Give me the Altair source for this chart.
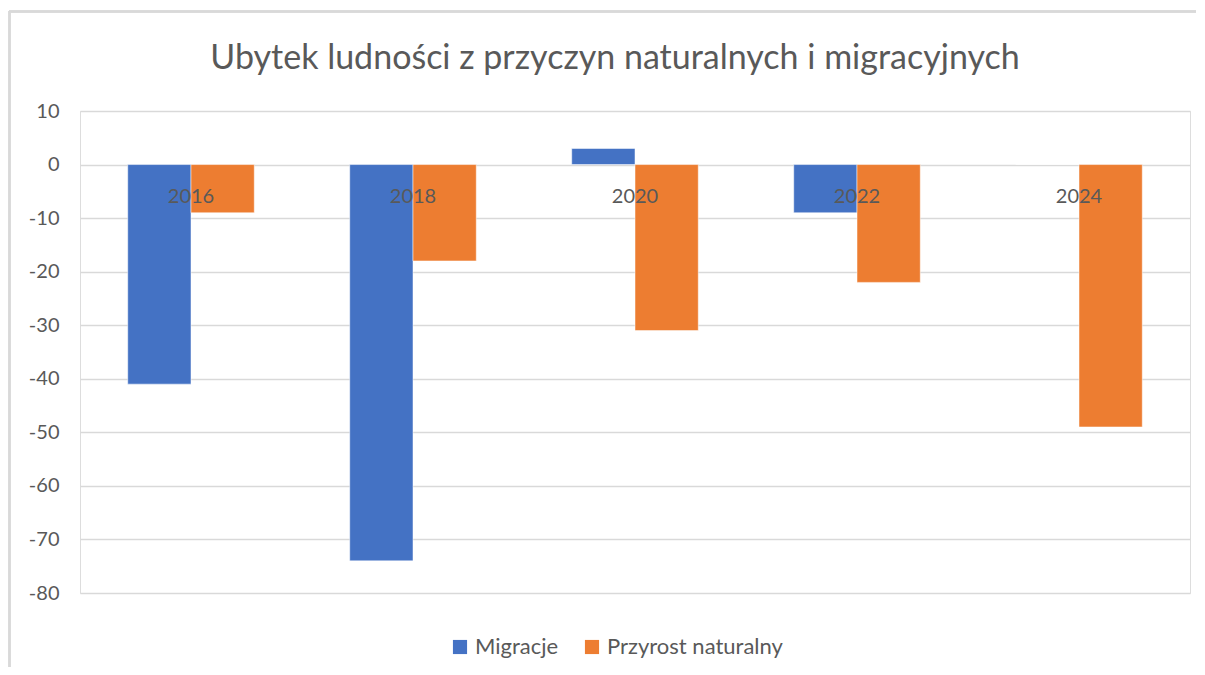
import altair as alt
import pandas as pd

years = ["2016", "2018", "2020", "2022", "2024"]
series = ["Migracje", "Przyrost naturalny"]
migracje = [-41, -74, 3, -9, 0]
przyrost = [-9, -18, -31, -22, -49]
colors = ["#4472C4", "#ED7D31"]
y_ticks = [10, 0, -10, -20, -30, -40, -50, -60, -70, -80]
title = "Ubytek ludności z przyczyn naturalnych i migracyjnych"

rows = []
for i, yr in enumerate(years):
    rows.append({"Rok": yr, "Seria": series[0], "Wartość": migracje[i]})
    rows.append({"Rok": yr, "Seria": series[1], "Wartość": przyrost[i]})
df = pd.DataFrame(rows)
lab = pd.DataFrame({"Rok": years, "zero": [0] * len(years)})

FONT = "Lato"
GREY = "#595959"

x_enc = alt.X("Rok:N", sort=years, axis=None,
              scale=alt.Scale(paddingInner=0.43, paddingOuter=0.215))

bars = alt.Chart(df).mark_bar(stroke="white", strokeWidth=0.5).encode(
    x=x_enc,
    xOffset=alt.XOffset("Seria:N", sort=series, scale=alt.Scale(paddingInner=0, paddingOuter=0)),
    y=alt.Y("Wartość:Q", scale=alt.Scale(domain=[-80, 10], nice=False, zero=False),
            axis=alt.Axis(values=y_ticks, title=None, ticks=False, domain=False,
                          labelPadding=21, labelFontSize=20, labelColor=GREY,
                          labelFont=FONT, gridColor="#D9D9D9", gridWidth=1.3,
                          labelExpr="'' + datum.value")),
    color=alt.Color("Seria:N", sort=series,
                    scale=alt.Scale(domain=series, range=colors),
                    legend=alt.Legend(title=None, orient="none", direction="horizontal",
                                      legendX=369, legendY=525, symbolType="square",
                                      symbolSize=200, symbolStrokeWidth=0,
                                      labelFontSize=22, labelFont=FONT, labelColor=GREY,
                                      labelLimit=400,
                                      columnPadding=22, padding=0, labelOffset=4)),
)

labels = alt.Chart(lab).mark_text(baseline="middle", dy=32, fontSize=20,
                                  font=FONT, color=GREY).encode(
    x=x_enc,
    y=alt.Y("zero:Q"),
    text="Rok:N",
)

top_border = alt.Chart(lab).mark_rule(color="#D9D9D9", strokeWidth=2).encode(
    x=alt.value(-71), x2=alt.value(1125), y=alt.value(-99.5))
left_border = alt.Chart(lab).mark_rule(color="#D9D9D9", strokeWidth=2).encode(
    x=alt.value(-70.5), y=alt.value(-100), y2=alt.value(560))

chart = alt.layer(top_border, left_border, bars, labels).properties(
    width=1110, height=482,
    autosize=alt.AutoSizeParams(type="none"),
    padding={"left": 72, "top": 103, "right": 6, "bottom": 74},
    title=alt.TitleParams(title, fontSize=34, font=FONT, color=GREY,
                          fontWeight="normal", anchor="middle", offset=0,
                          dy=66, dx=-20),
).configure_view(stroke=None).configure(background="white")

chart.save("out.html", embed_options={"renderer": "svg", "actions": False})
